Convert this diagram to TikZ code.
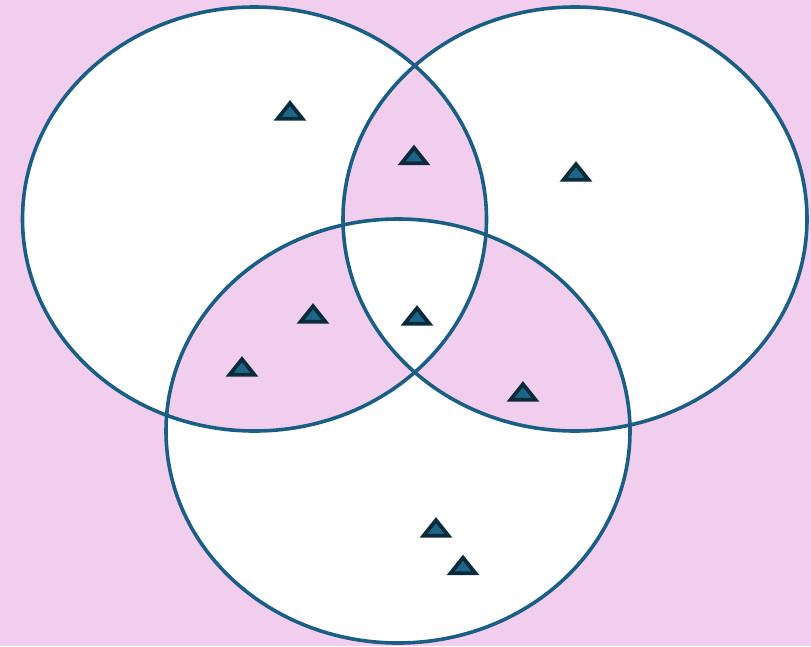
\documentclass[tikz,border=0pt]{standalone}
\usetikzlibrary{calc}
\definecolor{bgpink}{HTML}{F1CEEE}
\definecolor{ringblue}{HTML}{1B5E84}
\definecolor{trifill}{HTML}{1D6688}
\definecolor{triedge}{HTML}{0B2A3B}
\tikzset{
  ring/.style={draw=ringblue, line width=3.6pt},
  trist/.style={fill=trifill, draw=triedge, line width=3.8pt, line join=miter}
}
\newcommand\marktri[1]{\draw[trist] ($(#1)+(-12.5,7.8)$) -- ++(25,0) -- ++(-12.5,-15.6) -- cycle;}
\begin{document}
\begin{tikzpicture}[x=1pt,y=-1pt]
\useasboundingbox (0,0) rectangle (811,646);
\fill[bgpink] (0,0) rectangle (811,646);
\coordinate (c1) at (254.5,219);
\coordinate (c2) at (575,219);
\coordinate (c3) at (398,431);
\fill[white, even odd rule] (c1) ellipse [x radius=232, y radius=212]
  (c2) ellipse [x radius=232, y radius=212]
  (c3) ellipse [x radius=232, y radius=212];
\draw[ring] (c1) ellipse [x radius=232, y radius=212];
\draw[ring] (c2) ellipse [x radius=232, y radius=212];
\draw[ring] (c3) ellipse [x radius=232, y radius=212];
\coordinate (t1) at (290,111);
\coordinate (t2) at (414,155.5);
\coordinate (t3) at (576,172);
\coordinate (t4) at (313,314);
\coordinate (t5) at (242,367);
\coordinate (t6) at (417,316);
\coordinate (t7) at (523,392);
\coordinate (t8) at (436,528);
\coordinate (t9) at (463,565.5);
\marktri{t1}\marktri{t2}\marktri{t3}\marktri{t4}\marktri{t5}
\marktri{t6}\marktri{t7}\marktri{t8}\marktri{t9}
\end{tikzpicture}
\end{document}
